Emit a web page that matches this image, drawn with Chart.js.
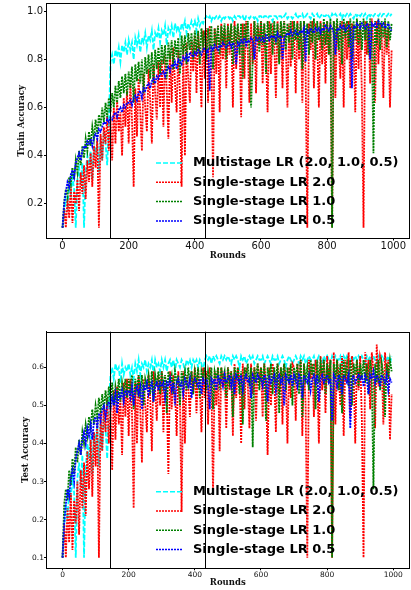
<!DOCTYPE html>
<html>
<head>
<meta charset="utf-8">
<script src="https://cdn.jsdelivr.net/npm/chart.js@4.4.0/dist/chart.umd.min.js"></script>
<style>
html, body { margin: 0; padding: 0; background: #fff; }
body { width: 411px; height: 590px; position: relative; overflow: hidden; }
.box { position: absolute; left: 0; width: 411px; }
#topBox { top: 0; height: 265px; }
#botBox { top: 290px; height: 300px; }
</style>
</head>
<body>
<div class="box" id="topBox"><canvas id="trainChart"></canvas></div>
<div class="box" id="botBox"><canvas id="testChart"></canvas></div>
<script>
// rounds sampled every 5
var rounds = [];
for (var r = 0; r < 1000; r += 5) rounds.push(r);

var seriesNames = ["Multistage LR (2.0, 1.0, 0.5)", "Single-stage LR 2.0", "Single-stage LR 1.0", "Single-stage LR 0.5"];
var stageRounds = [145, 430];
var roundTicks = [0, 200, 400, 600, 800, 1000];
var trainTicks = [0.2, 0.4, 0.6, 0.8, 1.0];
var testTicks = [0.1, 0.2, 0.3, 0.4, 0.5, 0.6];

// train accuracy
var trainMulti = [
0.10,0.16,0.22,0.19,0.27,0.24,0.31,0.26,0.10,0.30,0.35,0.28,0.37,0.10,0.33,0.40,0.36,0.42,0.30,0.44,
0.41,0.46,0.33,0.48,0.38,0.50,0.45,0.36,0.53,0.79,0.82,0.78,0.84,0.81,0.85,0.79,0.86,0.83,0.87,0.82,
0.88,0.84,0.87,0.80,0.89,0.86,0.90,0.83,0.89,0.87,0.91,0.85,0.90,0.88,0.92,0.84,0.91,0.89,0.93,0.87,
0.92,0.90,0.94,0.86,0.93,0.91,0.94,0.89,0.95,0.92,0.94,0.90,0.95,0.93,0.96,0.91,0.95,0.93,0.96,0.94,
0.96,0.92,0.97,0.94,0.96,0.95,0.97,0.98,0.97,0.98,0.96,0.98,0.97,0.98,0.97,0.98,0.96,0.98,0.97,0.98,
0.98,0.97,0.98,0.96,0.98,0.97,0.98,0.98,0.97,0.98,0.96,0.98,0.98,0.97,0.98,0.98,0.97,0.98,0.96,0.98,
0.98,0.97,0.98,0.98,0.97,0.98,0.98,0.96,0.98,0.98,0.97,0.98,0.98,0.97,0.98,0.99,0.97,0.98,0.98,0.97,
0.98,0.99,0.97,0.98,0.98,0.99,0.97,0.98,0.99,0.98,0.97,0.99,0.98,0.98,0.99,0.97,0.98,0.99,0.98,0.98,
0.99,0.98,0.97,0.99,0.98,0.99,0.98,0.98,0.99,0.97,0.99,0.98,0.99,0.98,0.99,0.98,0.97,0.99,0.98,0.99,
0.98,0.99,0.98,0.99,0.97,0.99,0.98,0.99,0.98,0.99,0.99,0.98,0.99,0.98,0.99,0.99,0.98,0.99,0.98,0.99
];
var trainLr2 = [
0.10,0.18,0.10,0.22,0.14,0.27,0.12,0.25,0.20,0.30,0.17,0.33,0.24,0.36,0.22,0.38,0.29,0.41,0.27,0.44,
0.35,0.47,0.10,0.49,0.38,0.52,0.45,0.56,0.42,0.55,0.38,0.60,0.45,0.63,0.50,0.58,0.40,0.64,0.52,0.67,
0.45,0.70,0.55,0.27,0.68,0.48,0.72,0.58,0.42,0.74,0.60,0.50,0.76,0.63,0.45,0.78,0.66,0.55,0.79,0.60,
0.80,0.52,0.82,0.68,0.47,0.83,0.62,0.85,0.70,0.58,0.84,0.66,0.27,0.86,0.40,0.87,0.72,0.62,0.88,0.75,
0.90,0.66,0.91,0.78,0.60,0.92,0.72,0.93,0.62,0.94,0.80,0.31,0.93,0.74,0.94,0.58,0.95,0.80,0.93,0.68,
0.95,0.82,0.94,0.60,0.96,0.76,0.93,0.88,0.56,0.95,0.72,0.96,0.84,0.62,0.95,0.78,0.96,0.66,0.94,0.86,
0.96,0.70,0.95,0.82,0.58,0.96,0.74,0.95,0.88,0.64,0.96,0.79,0.95,0.68,0.96,0.85,0.60,0.95,0.77,0.96,
0.90,0.66,0.96,0.80,0.95,0.62,0.96,0.74,0.10,0.95,0.84,0.96,0.68,0.95,0.88,0.60,0.96,0.78,0.95,0.70,
0.96,0.82,0.95,0.10,0.96,0.64,0.95,0.86,0.72,0.96,0.60,0.95,0.80,0.96,0.68,0.95,0.88,0.58,0.96,0.76,
0.95,0.66,0.10,0.96,0.82,0.95,0.70,0.97,0.86,0.62,0.96,0.78,0.95,0.90,0.64,0.96,0.82,0.93,0.60,0.84
];
var trainLr1 = [
0.10,0.21,0.26,0.23,0.31,0.28,0.35,0.30,0.38,0.33,0.42,0.36,0.44,0.39,0.47,0.42,0.50,0.44,0.52,0.47,
0.55,0.49,0.57,0.52,0.60,0.54,0.62,0.56,0.64,0.58,0.66,0.60,0.69,0.62,0.71,0.64,0.73,0.66,0.74,0.65,
0.75,0.68,0.77,0.62,0.78,0.71,0.79,0.70,0.80,0.66,0.81,0.74,0.82,0.72,0.83,0.70,0.84,0.76,0.85,0.74,
0.86,0.78,0.86,0.72,0.87,0.80,0.88,0.76,0.88,0.81,0.89,0.74,0.90,0.82,0.90,0.78,0.91,0.84,0.91,0.80,
0.92,0.83,0.92,0.78,0.93,0.86,0.92,0.80,0.93,0.84,0.94,0.76,0.93,0.87,0.94,0.82,0.94,0.86,0.95,0.80,
0.94,0.86,0.95,0.78,0.94,0.88,0.95,0.82,0.95,0.72,0.95,0.87,0.96,0.84,0.60,0.80,0.96,0.88,0.95,0.83,
0.96,0.86,0.95,0.74,0.96,0.88,0.95,0.82,0.96,0.86,0.95,0.78,0.96,0.89,0.96,0.84,0.95,0.87,0.96,0.80,
0.96,0.88,0.95,0.84,0.96,0.76,0.96,0.89,0.95,0.82,0.96,0.87,0.97,0.80,0.96,0.88,0.95,0.84,0.97,0.86,
0.96,0.82,0.97,0.10,0.96,0.88,0.97,0.84,0.96,0.78,0.97,0.89,0.96,0.85,0.97,0.80,0.96,0.88,0.97,0.86,
0.96,0.84,0.97,0.88,0.96,0.82,0.97,0.89,0.41,0.96,0.86,0.97,0.84,0.96,0.89,0.97,0.85,0.96,0.88,0.95
];
var trainLr05 = [
0.10,0.20,0.25,0.29,0.27,0.32,0.34,0.31,0.37,0.39,0.41,0.38,0.42,0.44,0.43,0.46,0.45,0.47,0.44,0.48,
0.49,0.47,0.51,0.50,0.52,0.54,0.53,0.55,0.54,0.56,0.55,0.57,0.58,0.56,0.59,0.60,0.58,0.61,0.60,0.62,
0.62,0.63,0.61,0.64,0.65,0.63,0.66,0.67,0.64,0.68,0.67,0.69,0.70,0.68,0.71,0.72,0.70,0.73,0.72,0.74,
0.74,0.75,0.73,0.76,0.77,0.75,0.78,0.77,0.79,0.76,0.80,0.79,0.78,0.81,0.80,0.82,0.79,0.83,0.82,0.81,
0.83,0.82,0.84,0.83,0.82,0.84,0.85,0.83,0.84,0.67,0.85,0.84,0.86,0.85,0.84,0.86,0.85,0.87,0.86,0.85,
0.86,0.87,0.85,0.87,0.86,0.78,0.87,0.86,0.88,0.87,0.89,0.86,0.88,0.87,0.89,0.88,0.80,0.89,0.88,0.89,
0.88,0.89,0.87,0.90,0.89,0.88,0.90,0.89,0.90,0.88,0.91,0.89,0.90,0.80,0.89,0.90,0.91,0.90,0.92,0.90,
0.91,0.92,0.90,0.91,0.92,0.91,0.93,0.79,0.92,0.91,0.93,0.92,0.91,0.93,0.92,0.93,0.91,0.93,0.92,0.94,
0.93,0.92,0.94,0.93,0.91,0.82,0.93,0.92,0.94,0.93,0.94,0.92,0.93,0.94,0.93,0.68,0.94,0.93,0.95,0.94,
0.93,0.95,0.94,0.93,0.95,0.94,0.80,0.95,0.94,0.95,0.93,0.96,0.95,0.94,0.95,0.93,0.94,0.95,0.93,0.92
];

// test accuracy
var testMulti = [
0.10,0.18,0.24,0.20,0.28,0.25,0.32,0.27,0.10,0.31,0.35,0.29,0.37,0.10,0.33,0.40,0.36,0.42,0.32,0.43,
0.40,0.45,0.34,0.46,0.38,0.48,0.44,0.36,0.50,0.58,0.60,0.57,0.61,0.59,0.60,0.56,0.61,0.58,0.60,0.59,
0.61,0.58,0.60,0.57,0.61,0.59,0.62,0.58,0.61,0.60,0.62,0.59,0.61,0.60,0.62,0.58,0.62,0.60,0.61,0.59,
0.62,0.60,0.62,0.59,0.61,0.62,0.60,0.62,0.59,0.62,0.61,0.60,0.62,0.61,0.59,0.62,0.61,0.62,0.60,0.62,
0.61,0.62,0.60,0.62,0.61,0.59,0.62,0.63,0.62,0.63,0.61,0.63,0.62,0.63,0.62,0.61,0.63,0.62,0.63,0.62,
0.63,0.62,0.61,0.63,0.62,0.63,0.62,0.60,0.63,0.62,0.63,0.61,0.62,0.63,0.62,0.63,0.61,0.62,0.63,0.62,
0.62,0.63,0.61,0.62,0.63,0.62,0.61,0.63,0.62,0.62,0.63,0.61,0.62,0.63,0.62,0.60,0.62,0.63,0.62,0.61,
0.62,0.63,0.62,0.61,0.63,0.62,0.63,0.61,0.62,0.63,0.62,0.62,0.63,0.61,0.62,0.63,0.62,0.61,0.63,0.62,
0.63,0.62,0.61,0.63,0.62,0.63,0.62,0.62,0.63,0.61,0.63,0.62,0.63,0.62,0.61,0.63,0.62,0.63,0.62,0.63,
0.62,0.63,0.62,0.61,0.63,0.62,0.63,0.62,0.63,0.62,0.61,0.63,0.62,0.63,0.62,0.63,0.62,0.63,0.61,0.63
];
var testLr2 = [
0.10,0.19,0.10,0.23,0.14,0.27,0.12,0.25,0.19,0.30,0.16,0.33,0.23,0.35,0.21,0.38,0.28,0.41,0.26,0.43,
0.34,0.46,0.10,0.48,0.38,0.50,0.43,0.52,0.40,0.50,0.33,0.54,0.41,0.55,0.45,0.52,0.37,0.56,0.47,0.57,
0.42,0.57,0.48,0.23,0.56,0.40,0.58,0.49,0.35,0.57,0.50,0.43,0.58,0.52,0.38,0.59,0.54,0.46,0.58,0.50,
0.59,0.43,0.58,0.53,0.32,0.59,0.49,0.58,0.54,0.42,0.59,0.51,0.22,0.59,0.40,0.58,0.55,0.47,0.59,0.53,
0.60,0.48,0.59,0.55,0.43,0.60,0.52,0.59,0.45,0.60,0.56,0.27,0.59,0.50,0.60,0.38,0.60,0.55,0.59,0.44,
0.60,0.54,0.59,0.42,0.61,0.52,0.60,0.57,0.40,0.61,0.49,0.60,0.56,0.44,0.61,0.53,0.60,0.46,0.61,0.57,
0.60,0.47,0.61,0.55,0.37,0.60,0.50,0.61,0.58,0.43,0.61,0.53,0.60,0.45,0.61,0.57,0.40,0.60,0.52,0.61,
0.60,0.46,0.61,0.55,0.62,0.42,0.61,0.50,0.10,0.62,0.57,0.61,0.47,0.62,0.58,0.40,0.63,0.54,0.62,0.48,
0.63,0.56,0.62,0.10,0.64,0.45,0.62,0.58,0.50,0.63,0.42,0.62,0.56,0.64,0.47,0.63,0.59,0.40,0.62,0.54,
0.63,0.46,0.10,0.64,0.57,0.62,0.49,0.64,0.59,0.44,0.66,0.55,0.63,0.61,0.45,0.64,0.58,0.62,0.41,0.53
];
var testLr1 = [
0.10,0.24,0.28,0.25,0.33,0.29,0.36,0.32,0.39,0.35,0.41,0.37,0.43,0.40,0.45,0.42,0.47,0.44,0.49,0.45,
0.50,0.47,0.52,0.48,0.53,0.49,0.54,0.50,0.55,0.51,0.56,0.50,0.55,0.52,0.57,0.51,0.56,0.53,0.57,0.52,
0.57,0.53,0.58,0.49,0.57,0.54,0.58,0.52,0.58,0.50,0.57,0.55,0.58,0.53,0.59,0.51,0.58,0.55,0.59,0.53,
0.59,0.55,0.58,0.48,0.59,0.56,0.58,0.53,0.59,0.56,0.58,0.50,0.59,0.56,0.59,0.54,0.60,0.56,0.59,0.53,
0.59,0.56,0.60,0.52,0.59,0.57,0.60,0.54,0.59,0.56,0.60,0.49,0.59,0.57,0.60,0.54,0.60,0.57,0.59,0.52,
0.60,0.56,0.59,0.47,0.60,0.57,0.60,0.53,0.59,0.45,0.60,0.57,0.61,0.55,0.60,0.39,0.60,0.57,0.61,0.54,
0.60,0.56,0.61,0.46,0.60,0.57,0.61,0.53,0.60,0.56,0.61,0.48,0.60,0.57,0.61,0.54,0.60,0.56,0.61,0.50,
0.60,0.57,0.61,0.53,0.62,0.47,0.61,0.57,0.60,0.54,0.62,0.58,0.61,0.49,0.62,0.56,0.61,0.58,0.62,0.53,
0.61,0.56,0.62,0.10,0.61,0.57,0.62,0.54,0.61,0.48,0.62,0.58,0.61,0.55,0.62,0.50,0.61,0.58,0.62,0.55,
0.61,0.57,0.62,0.56,0.61,0.53,0.62,0.58,0.28,0.61,0.56,0.62,0.54,0.61,0.58,0.47,0.61,0.57,0.62,0.59
];
var testLr05 = [
0.10,0.19,0.24,0.28,0.26,0.31,0.33,0.30,0.36,0.38,0.40,0.37,0.41,0.43,0.40,0.44,0.42,0.45,0.41,0.46,
0.47,0.44,0.48,0.46,0.49,0.50,0.47,0.50,0.51,0.49,0.52,0.50,0.53,0.48,0.53,0.52,0.54,0.51,0.54,0.53,
0.54,0.52,0.55,0.50,0.54,0.55,0.53,0.55,0.49,0.55,0.54,0.56,0.53,0.55,0.56,0.51,0.55,0.56,0.54,0.56,
0.55,0.56,0.52,0.56,0.55,0.57,0.54,0.56,0.50,0.56,0.57,0.55,0.56,0.53,0.57,0.56,0.55,0.57,0.52,0.56,
0.57,0.56,0.55,0.57,0.53,0.57,0.56,0.57,0.55,0.49,0.57,0.56,0.57,0.54,0.58,0.56,0.57,0.55,0.58,0.56,
0.57,0.58,0.55,0.57,0.53,0.58,0.57,0.56,0.58,0.54,0.57,0.58,0.56,0.57,0.52,0.58,0.57,0.56,0.58,0.57,
0.57,0.55,0.58,0.57,0.51,0.58,0.56,0.57,0.58,0.54,0.57,0.58,0.56,0.57,0.50,0.58,0.57,0.56,0.58,0.55,
0.58,0.57,0.55,0.58,0.57,0.52,0.58,0.57,0.56,0.58,0.54,0.57,0.58,0.56,0.58,0.51,0.57,0.58,0.56,0.57,
0.58,0.56,0.57,0.46,0.58,0.57,0.55,0.58,0.57,0.53,0.58,0.57,0.56,0.58,0.44,0.57,0.58,0.56,0.57,0.58,
0.57,0.58,0.55,0.58,0.57,0.53,0.58,0.57,0.59,0.56,0.58,0.57,0.55,0.58,0.57,0.56,0.58,0.54,0.57,0.56
];

var seriesColors = ["#00ffff", "#ff0000", "#008000", "#0000ff"];
var seriesDash = [[5, 2], [2, 1], [2, 1], [2, 1]];

function points(vals) {
    return vals.map(function (v, i) { return { x: rounds[i], y: v }; });
}

function makeDatasets(list) {
    return list.map(function (vals, i) {
        return {
            label: seriesNames[i],
            data: points(vals),
            borderColor: seriesColors[i],
            borderDash: seriesDash[i],
            borderWidth: 1.8,
            pointRadius: 0,
            tension: 0,
            fill: false,
            order: 3 - i
        };
    });
}

var framePlugin = {
    id: 'frame',
    afterDatasetsDraw: function (chart) {
        var ctx = chart.ctx, a = chart.chartArea, xs = chart.scales.x;
        ctx.save();
        ctx.strokeStyle = '#000';
        ctx.lineWidth = 1;
        stageRounds.forEach(function (r) {
            var px = Math.round(xs.getPixelForValue(r)) + 0.5;
            ctx.beginPath();
            ctx.moveTo(px, a.top);
            ctx.lineTo(px, a.bottom);
            ctx.stroke();
        });
        ctx.strokeRect(Math.round(a.left) + 0.5, Math.round(a.top) + 0.5,
            Math.round(a.right - a.left) - 1, Math.round(a.bottom - a.top) - 1);

        // legend inside the plot, lower right
        ctx.font = 'bold 13px "DejaVu Sans"';
        ctx.textBaseline = 'middle';
        ctx.fillStyle = '#000';
        seriesNames.forEach(function (name, i) {
            var y = a.top + 160 + i * 19.3;
            ctx.strokeStyle = seriesColors[i];
            ctx.lineWidth = 1.5;
            ctx.setLineDash(seriesDash[i]);
            ctx.beginPath();
            ctx.moveTo(a.left + 110, y);
            ctx.lineTo(a.left + 136.5, y);
            ctx.stroke();
            ctx.setLineDash([]);
            ctx.fillText(name, a.left + 147, y);
        });
        ctx.restore();
    }
};

function makeOptions(o) {
    return {
        animation: false,
        responsive: true,
        maintainAspectRatio: false,
        devicePixelRatio: 1,
        layout: { padding: { top: o.top, right: 1.5, left: 0, bottom: 0 } },
        plugins: { legend: { display: false }, tooltip: { enabled: false } },
        scales: {
            x: {
                type: 'linear', min: -50, max: 1049,
                afterBuildTicks: function (s) { s.ticks = roundTicks.map(function (v) { return { value: v }; }); },
                afterFit: function (s) { s.height = o.xHeight; s.paddingLeft = 0; s.paddingRight = 0; },
                grid: { drawOnChartArea: false, drawTicks: true, tickLength: 2, color: '#000' },
                border: { color: '#000' },
                ticks: {
                    font: { family: 'DejaVu Sans', size: o.tickSize }, color: '#111',
                    padding: o.xPad, maxRotation: 0, autoSkip: false,
                    callback: function (v) { return String(v); }
                },
                title: {
                    display: true, text: 'Rounds', color: '#111',
                    font: { family: 'DejaVu Serif', weight: 'bold', size: 8.5 },
                    padding: { top: 0, bottom: o.xTitlePad }
                }
            },
            y: {
                min: o.yMin, max: o.yMax,
                afterBuildTicks: function (s) { s.ticks = o.yTicks.map(function (v) { return { value: v }; }); },
                afterFit: function (s) { s.width = 46; s.paddingTop = 0; s.paddingBottom = 0; },
                grid: { drawOnChartArea: false, drawTicks: true, tickLength: 2, color: '#000' },
                border: { color: '#000' },
                ticks: {
                    font: { family: 'DejaVu Sans', size: o.tickSize }, color: '#111',
                    padding: o.yPad, autoSkip: false,
                    callback: function (v) { return v.toFixed(1); }
                },
                title: {
                    display: true, text: o.yTitle, color: '#111',
                    font: { family: 'DejaVu Serif', weight: 'bold', size: 8.5 },
                    padding: { top: o.yTitlePad, bottom: 0 }
                }
            }
        }
    };
}

new Chart(document.getElementById('trainChart').getContext('2d'), {
    type: 'line',
    data: { datasets: makeDatasets([trainMulti, trainLr2, trainLr1, trainLr05]) },
    options: makeOptions({
        top: 3, xHeight: 26.5, tickSize: 10, xPad: 0, yPad: 1, xTitlePad: 3.9,
        yMin: 0.055, yMax: 1.035, yTicks: trainTicks, yTitle: 'Train Accuracy', yTitlePad: 16.6
    }),
    plugins: [framePlugin]
});

new Chart(document.getElementById('testChart').getContext('2d'), {
    type: 'line',
    data: { datasets: makeDatasets([testMulti, testLr2, testLr1, testLr05]) },
    options: makeOptions({
        top: 41.7, xHeight: 21.7, tickSize: 7.5, xPad: 0.2, yPad: 0, xTitlePad: 2.2,
        yMin: 0.072, yMax: 0.694, yTicks: testTicks, yTitle: 'Test Accuracy', yTitlePad: 20.4
    }),
    plugins: [framePlugin]
});
</script>
</body>
</html>
